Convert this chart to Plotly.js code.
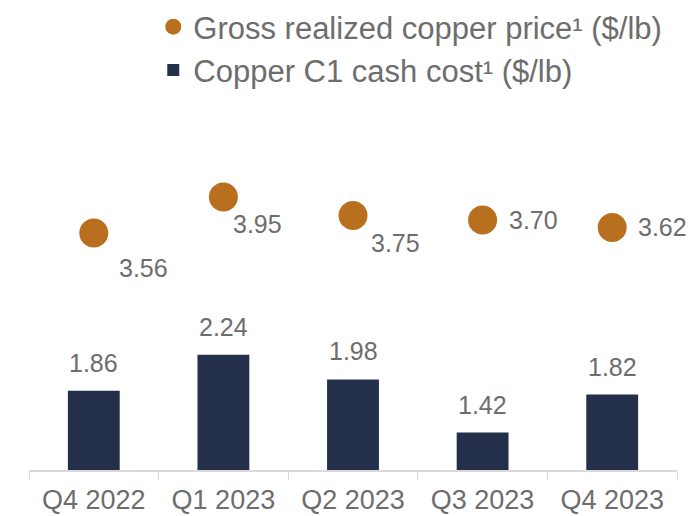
<!DOCTYPE html>
<html><head><meta charset="utf-8">
<script src="https://cdn.plot.ly/plotly-3.0.1.min.js"></script>
<style>html,body{margin:0;padding:0;background:#fff}</style>
</head><body><div id="chart" style="width:695px;height:516px"></div>
<script>
const quarters = ["Q4 2022", "Q1 2023", "Q2 2023", "Q3 2023", "Q4 2023"];
const c1CashCost = [1.86, 2.24, 1.98, 1.42, 1.82];
const copperPrice = [3.56, 3.95, 3.75, 3.70, 3.62];
const priceLabelOffsets = [[50, -35], [34, -27], [42, -28], [51, 0], [50, 0]];

const gray = "#6d6d6d";
const font = "Liberation Sans, Arial, sans-serif";

const bars = {
  type: "bar", x: quarters, y: c1CashCost,
  name: "Copper C1 cash cost¹ ($/lb)",
  marker: {color: "#243049"}, width: 0.4
};
const dots = {
  type: "scatter", mode: "markers", x: quarters, y: copperPrice, yaxis: "y2",
  name: "Gross realized copper price¹ ($/lb)",
  marker: {color: "#b8701f", size: 29}
};
const priceAnn = copperPrice.map((v, i) => ({
  x: quarters[i], y: v, yref: "y2", text: v.toFixed(2), showarrow: false,
  xshift: priceLabelOffsets[i][0], yshift: priceLabelOffsets[i][1],
  font: {color: gray, size: 25, family: font}
}));
const costAnn = c1CashCost.map((v, i) => ({
  x: quarters[i], y: v, text: v.toFixed(2), showarrow: false,
  yanchor: "bottom", yshift: 12,
  font: {color: gray, size: 25, family: font}
}));

Plotly.newPlot("chart", [dots, bars], {
  width: 695, height: 516,
  margin: {l: 29, r: 18, t: 0, b: 46},
  paper_bgcolor: "#fff", plot_bgcolor: "rgba(0,0,0,0)",
  font: {family: font, color: gray},
  showlegend: true,
  legend: {x: 0.985, y: 1.0, xanchor: "right", yanchor: "top",
    bgcolor: "rgba(0,0,0,0)",
    font: {size: 31, color: gray, family: font}, traceorder: "normal",
    itemwidth: 30, tracegroupgap: 0},
  xaxis: {range: [-0.5, 4.5], showline: true, linecolor: "#d9d9d9", linewidth: 1.5,
    ticks: "outside", tickson: "boundaries", ticklen: 8, tickcolor: "#d9d9d9",
    ticklabelstandoff: 5,
    tickfont: {size: 27, color: gray, family: font}, showgrid: false},
  yaxis: {range: [1.024, 5.987], visible: false, showgrid: false, zeroline: false},
  yaxis2: {range: [0.992, 6.084], overlaying: "y", visible: false, showgrid: false, zeroline: false},
  annotations: priceAnn.concat(costAnn),
  bargap: 0.6
}, {displayModeBar: false, staticPlot: true});
</script></body></html>
